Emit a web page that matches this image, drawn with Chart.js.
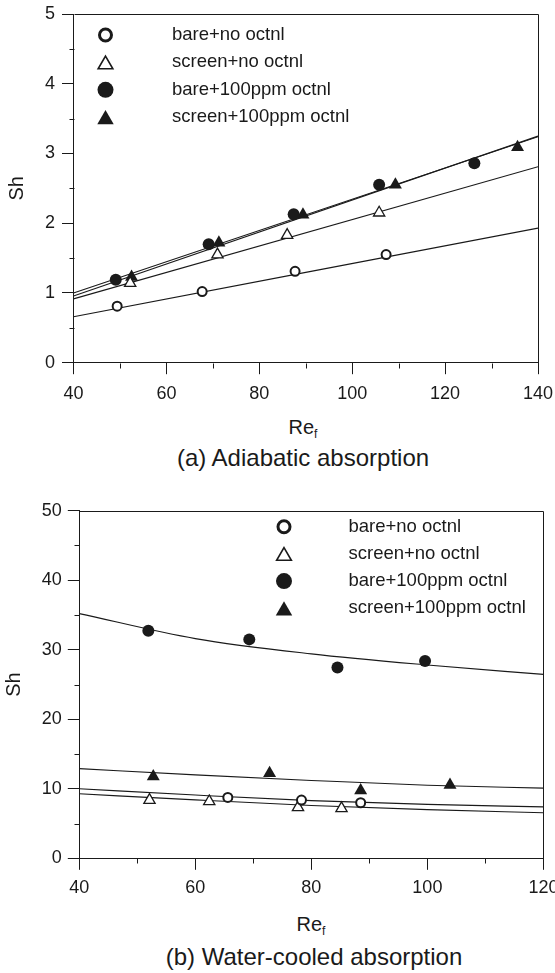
<!DOCTYPE html>
<html>
<head>
<meta charset="UTF-8">
<script src="https://cdn.jsdelivr.net/npm/chart.js"></script>
<style>
  body { margin: 0; background: #fff; font-family: 'Liberation Sans', Arial, sans-serif; color: #1a1a1a; }
  #page { position: relative; width: 555px; height: 973px; overflow: hidden; }
  canvas { position: absolute; left: 0; }
  .lbl { position: absolute; width: 400px; text-align: center; white-space: nowrap; }
  .lbl sub { font-size: 12px; vertical-align: -4px; line-height: 0; }
</style>
</head>
<body>
<div id="page">
  <canvas id="chartA" width="555" height="415" style="top:0px"></canvas>
  <div class="lbl" style="left:103px; top:415px; font-size:20px; line-height:24px">Re<sub>f</sub></div>
  <div class="lbl" style="left:103px; top:444px; font-size:24px; line-height:28px">(a) Adiabatic absorption</div>

  <canvas id="chartB" width="555" height="420" style="top:490px"></canvas>
  <div class="lbl" style="left:111px; top:912px; font-size:20px; line-height:24px">Re<sub>f</sub></div>
  <div class="lbl" style="left:114px; top:943px; font-size:24px; line-height:28px">(b) Water-cooled absorption</div>
</div>
<script>
    // legend names (same order in both plots)
    const seriesNames = ['bare+no octnl', 'screen+no octnl', 'bare+100ppm octnl', 'screen+100ppm octnl'];

    // (a) adiabatic absorption, points
    const aBareNoX = [49.4, 67.7, 87.7, 107.3];
    const aBareNoY = [0.81, 1.02, 1.31, 1.55];
    const aScreenNoX = [52.2, 71.0, 86.0, 105.8];
    const aScreenNoY = [1.14, 1.55, 1.83, 2.15];
    const aBareOctX = [49.1, 69.1, 87.4, 105.8, 126.3];
    const aBareOctY = [1.19, 1.70, 2.13, 2.55, 2.86];
    const aScreenOctX = [52.5, 71.3, 89.4, 109.3, 135.6];
    const aScreenOctY = [1.23, 1.72, 2.12, 2.55, 3.09];
    // (a) fitted lines
    const aFitX = [40, 140];
    const aFitBareNo = [0.66, 1.93];
    const aFitScreenNo = [0.915, 2.81];
    const aFitBareOct = [1.0, 3.24];
    const aFitScreenOct = [0.955, 3.25];
    const aXLabels = [40, 60, 80, 100, 120, 140];
    const aYLabels = [0, 1, 2, 3, 4, 5];

    // (b) water-cooled absorption, points
    const bBareNoX = [65.6, 78.3, 88.5];
    const bBareNoY = [8.76, 8.37, 7.99];
    const bScreenNoX = [52.1, 62.4, 77.7, 85.2];
    const bScreenNoY = [8.37, 8.18, 7.32, 7.18];
    const bBareOctX = [51.9, 69.3, 84.5, 99.6];
    const bBareOctY = [32.73, 31.49, 27.46, 28.37];
    const bScreenOctX = [52.75, 72.8, 88.5, 103.9];
    const bScreenOctY = [11.77, 12.25, 9.76, 10.53];
    // (b) fitted curves, read at x = 40..120
    const bFitX = [40, 60, 80, 100, 120];
    const bFitBareNo = [10.0, 9.1, 8.3, 7.75, 7.4];
    const bFitScreenNo = [9.28, 8.4, 7.6, 7.0, 6.56];
    const bFitBareOct = [35.2, 31.6, 29.4, 27.8, 26.45];
    const bFitScreenOct = [12.9, 12.0, 11.2, 10.5, 10.1];
    const bXLabels = [40, 60, 80, 100, 120];
    const bYLabels = [0, 10, 20, 30, 40, 50];

    const FONT = "'Liberation Sans', Arial, sans-serif";
    const INK = '#1a1a1a';

    const marks = [
        { pointStyle: 'circle', radius: 4.5, bg: '#fff', bw: 2 },
        { pointStyle: 'triangle', radius: 6.5, bg: '#fff', bw: 1.3 },
        { pointStyle: 'circle', radius: 6, bg: INK, bw: 0 },
        { pointStyle: 'triangle', radius: 7.5, bg: INK, bw: 0 }
    ];
    const legendMarks = [
        { pointStyle: 'circle', radius: 6, bg: '#fff', bw: 3 },
        { pointStyle: 'triangle', radius: 8.5, bg: '#fff', bw: 1.6 },
        { pointStyle: 'circle', radius: 8, bg: INK, bw: 0 },
        { pointStyle: 'triangle', radius: 9.5, bg: INK, bw: 0 }
    ];

    function pts(xs, ys) {
        return xs.map((x, i) => ({ x: x, y: ys[i] }));
    }

    // legend drawn inside the plot area
    const insideLegend = {
        id: 'insideLegend',
        afterDraw(chart, args, o) {
            const ctx = chart.ctx;
            ctx.save();
            ctx.font = o.size + 'px ' + FONT;
            ctx.textBaseline = 'middle';
            seriesNames.forEach((name, i) => {
                const m = legendMarks[i];
                const y = o.y0 + i * o.dy;
                const yOff = m.pointStyle === 'triangle' ? m.radius / 4 : 0;
                ctx.fillStyle = m.bg;
                ctx.strokeStyle = INK;
                ctx.lineWidth = m.bw;
                Chart.helpers.drawPoint(ctx, { pointStyle: m.pointStyle, radius: m.radius, rotation: 0, borderWidth: m.bw }, o.mx, y + yOff);
                ctx.fillStyle = INK;
                ctx.fillText(name, o.tx, y);
            });
            ctx.restore();
        }
    };

    // box around plot + short minor ticks
    const frame = {
        id: 'frame',
        afterDraw(chart, args, o) {
            const ctx = chart.ctx;
            const a = chart.chartArea;
            const sx = chart.scales.x, sy = chart.scales.y;
            ctx.save();
            ctx.strokeStyle = INK;
            ctx.lineWidth = 1;
            const l = Math.round(a.left) + 0.5, t = Math.round(a.top) + 0.5;
            const r = Math.round(a.right) + 0.5, b = Math.round(a.bottom) + 0.5;
            ctx.beginPath();
            ctx.moveTo(l, t); ctx.lineTo(r, t); ctx.lineTo(r, b);
            sx.ticks.forEach(tk => {
                if (!o.xMajor.includes(tk.value)) {
                    const p = Math.round(sx.getPixelForValue(tk.value)) + 0.5;
                    ctx.moveTo(p, b); ctx.lineTo(p, b + 5);
                }
            });
            sy.ticks.forEach(tk => {
                if (!o.yMajor.includes(tk.value)) {
                    const p = Math.round(sy.getPixelForValue(tk.value)) + 0.5;
                    ctx.moveTo(l, p); ctx.lineTo(l - 5, p);
                }
            });
            ctx.stroke();
            ctx.restore();
        }
    };

    function markerSet(i, xs, ys) {
        const m = marks[i];
        return {
            label: seriesNames[i], data: pts(xs, ys), showLine: false,
            pointStyle: m.pointStyle, pointRadius: m.radius, pointBorderWidth: m.bw,
            pointBackgroundColor: m.bg, pointBorderColor: INK
        };
    }
    function fitSet(xs, ys) {
        return {
            data: pts(xs, ys), showLine: true, pointRadius: 0, borderWidth: 1.1,
            borderColor: INK, cubicInterpolationMode: 'monotone', fill: false
        };
    }

    function makeChart(id, g) {
        return new Chart(document.getElementById(id), {
            type: 'scatter',
            data: { datasets: g.datasets },
            options: {
                responsive: false,
                devicePixelRatio: 1,
                animation: false,
                events: [],
                layout: { padding: { top: g.padTop, right: g.padRight, left: 0, bottom: 0 } },
                plugins: {
                    legend: { display: false },
                    tooltip: { enabled: false },
                    insideLegend: g.legend,
                    frame: { xMajor: g.xLabels, yMajor: g.yLabels }
                },
                scales: {
                    x: {
                        type: 'linear', min: g.xMin, max: g.xMax,
                        ticks: {
                            stepSize: g.xStep, autoSkip: false, maxRotation: 0, padding: g.xPad,
                            color: INK, font: { family: FONT, size: 18 },
                            callback: v => g.xLabels.includes(v) ? v : ''
                        },
                        grid: {
                            drawOnChartArea: false, tickLength: 11.5, tickWidth: 1,
                            tickColor: c => (c.tick && g.xLabels.includes(c.tick.value)) ? INK : 'rgba(0,0,0,0)'
                        },
                        border: { color: INK, width: 1 },
                        afterFit: s => { s.height = g.xHeight; s.paddingLeft = 0; s.paddingRight = 0; }
                    },
                    y: {
                        type: 'linear', min: g.yMin, max: g.yMax,
                        ticks: {
                            stepSize: g.yStep, autoSkip: false, padding: g.yPad,
                            color: INK, font: { family: FONT, size: 18 },
                            callback: v => g.yLabels.includes(v) ? v : ''
                        },
                        grid: {
                            drawOnChartArea: false, tickLength: 11.5, tickWidth: 1,
                            tickColor: c => (c.tick && g.yLabels.includes(c.tick.value)) ? INK : 'rgba(0,0,0,0)'
                        },
                        border: { color: INK, width: 1 },
                        title: { display: true, text: 'Sh', color: INK, font: { family: FONT, size: 20 }, padding: { top: g.titlePad, bottom: 0 } },
                        afterFit: s => { s.width = g.yWidth; s.paddingTop = 0; s.paddingBottom = 0; }
                    }
                }
            },
            plugins: [insideLegend, frame]
        });
    }

    makeChart('chartA', {
        datasets: [
            markerSet(0, aBareNoX, aBareNoY),
            markerSet(1, aScreenNoX, aScreenNoY),
            markerSet(2, aBareOctX, aBareOctY),
            markerSet(3, aScreenOctX, aScreenOctY),
            fitSet(aFitX, aFitBareNo),
            fitSet(aFitX, aFitScreenNo),
            fitSet(aFitX, aFitBareOct),
            fitSet(aFitX, aFitScreenOct)
        ],
        xMin: 40, xMax: 140, xStep: 10, xLabels: aXLabels,
        yMin: 0, yMax: 5, yStep: 0.5, yLabels: aYLabels,
        padTop: 14, padRight: 17, yWidth: 73.5, xHeight: 52.3, xPad: 9, yPad: 7, titlePad: 5,
        legend: { mx: 105.5, tx: 172, y0: 35, dy: 27.4, size: 18.5 }
    });

    makeChart('chartB', {
        datasets: [
            markerSet(0, bBareNoX, bBareNoY),
            markerSet(1, bScreenNoX, bScreenNoY),
            markerSet(2, bBareOctX, bBareOctY),
            markerSet(3, bScreenOctX, bScreenOctY),
            fitSet(bFitX, bFitBareNo),
            fitSet(bFitX, bFitScreenNo),
            fitSet(bFitX, bFitBareOct),
            fitSet(bFitX, bFitScreenOct)
        ],
        xMin: 40, xMax: 120, xStep: 10, xLabels: bXLabels,
        yMin: 0, yMax: 50, yStep: 5, yLabels: bYLabels,
        padTop: 20.7, padRight: 11.6, yWidth: 79.3, xHeight: 51.7, xPad: 7.5, yPad: 6, titlePad: 2,
        legend: { mx: 284, tx: 348.5, y0: 36.7, dy: 27.2, size: 18.5 }
    });
</script>
</body>
</html>
